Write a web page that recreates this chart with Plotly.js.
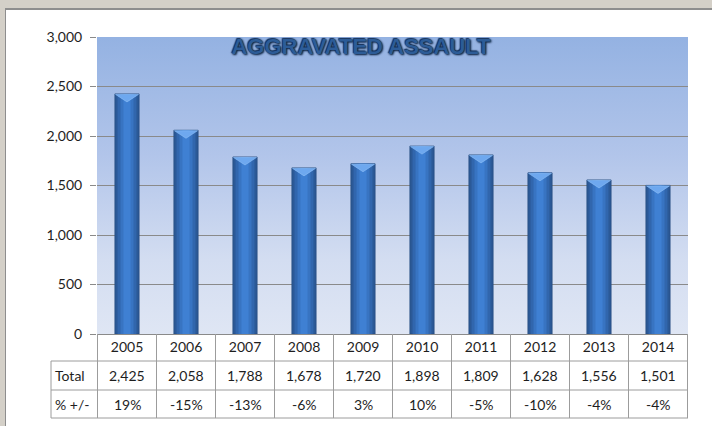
<!DOCTYPE html>
<html>
<head>
<meta charset="utf-8">
<script src="https://cdn.plot.ly/plotly-3.0.1.min.js"></script>
<style>
  html, body { margin: 0; padding: 0; }
  body { width: 712px; height: 426px; background: #d4d0c8; position: relative; overflow: hidden; }
  #frame { position: absolute; left: 5px; top: 8px; width: 707px; height: 418px;
           background: #ffffff; border-left: 1px solid #8e8e8e; border-top: 2px solid #8e8e8e; box-sizing: border-box; }
  #grad { position: absolute; left: 97px; top: 37px; width: 591px; height: 297px;
          background: linear-gradient(to bottom, #94b2e2 0%, #b2c5ea 40%, #d3ddf1 75%, #dfe6f4 100%); }
  #chart { position: absolute; left: 0; top: 0; width: 712px; height: 426px; }
</style>
</head>
<body>
<div id="frame"></div>
<div id="grad"></div>
<div id="chart"></div>
<script>
// ---- data ----
var years = ['2005','2006','2007','2008','2009','2010','2011','2012','2013','2014'];
var totals = [2425, 2058, 1788, 1678, 1720, 1898, 1809, 1628, 1556, 1501];
var pctChange = [19, -15, -13, -6, 3, 10, -5, -10, -4, -4];
var yTicks = [0, 500, 1000, 1500, 2000, 2500, 3000];
var rowLabels = ['Total', '% +/-'];
var chartTitle = 'AGGRAVATED ASSAULT';

// ---- styling ----
var font = 'Lato, "Open Sans", sans-serif';
var fs = 14;
var txtColor = '#1e1e1e';
var tableLine = '#9c9c9c';

function barTrace(w, color, lineColor, lineW) {
  return {
    type: 'bar', x: years, y: totals, width: w,
    marker: { color: color, line: { color: lineColor, width: lineW } },
    hoverinfo: 'skip', showlegend: false
  };
}
var traces = [
  barTrace(0.41, '#2b5997', '#274d80', 0.8),
  barTrace(0.32, '#3166ad', '#3166ad', 0),
  barTrace(0.22, '#3874c2', '#3874c2', 0),
  barTrace(0.12, '#3f80d3', '#3f80d3', 0)
];

var shapes = [];
// bevel triangles at the top of each bar
years.forEach(function (yr, i) {
  shapes.push({
    type: 'path', xref: 'x', yref: 'y', xsizemode: 'pixel', ysizemode: 'pixel',
    xanchor: i, yanchor: totals[i],
    path: 'M-11.5,-0.5 L11.5,-0.5 L0,-8 Z',
    fillcolor: '#6ea8ef', line: { color: '#8fc0f7', width: 0.6 }, layer: 'above'
  });
});

// table grid lines (pixel offsets below the x axis)
var rowH = [27, 29, 28];
var yLines = [0, -rowH[0], -(rowH[0] + rowH[1]), -(rowH[0] + rowH[1] + rowH[2])];
var labelLeft = -46 / 591; // paper units left of the plot
[1, 2, 3].forEach(function (k) {
  shapes.push({ type: 'line', xref: 'paper', yref: 'paper', ysizemode: 'pixel', yanchor: 0,
    x0: labelLeft, x1: 1, y0: yLines[k], y1: yLines[k], line: { color: tableLine, width: 1 } });
});
for (var b = 0; b <= years.length; b++) {
  shapes.push({ type: 'line', xref: 'x', yref: 'paper', ysizemode: 'pixel', yanchor: 0,
    x0: b - 0.5, x1: b - 0.5, y0: 0, y1: yLines[3], line: { color: tableLine, width: 1 } });
}
shapes.push({ type: 'line', xref: 'paper', yref: 'paper', ysizemode: 'pixel', yanchor: 0,
  x0: labelLeft, x1: labelLeft, y0: yLines[1], y1: yLines[3], line: { color: tableLine, width: 1 } });

var annotations = [];
var rowCenters = [-(rowH[0] + rowH[1] / 2), -(rowH[0] + rowH[1] + rowH[2] / 2)];
years.forEach(function (yr, i) {
  annotations.push({ xref: 'x', yref: 'paper', x: i, y: 0, yshift: rowCenters[0],
    text: totals[i].toLocaleString('en-US'), showarrow: false,
    font: { family: font, size: fs, color: txtColor }, xanchor: 'center', yanchor: 'middle' });
  annotations.push({ xref: 'x', yref: 'paper', x: i, y: 0, yshift: rowCenters[1],
    text: pctChange[i] + '%', showarrow: false,
    font: { family: font, size: fs, color: txtColor }, xanchor: 'center', yanchor: 'middle' });
});
rowLabels.forEach(function (lab, k) {
  annotations.push({ xref: 'paper', yref: 'paper', x: labelLeft, xshift: 2, y: 0, yshift: rowCenters[k],
    text: lab, showarrow: false, font: { family: font, size: fs, color: txtColor },
    xanchor: 'left', yanchor: 'middle' });
});

var layout = {
  width: 712, height: 426,
  margin: { l: 97, r: 24, t: 37, b: 92, pad: 0 },
  paper_bgcolor: 'rgba(0,0,0,0)', plot_bgcolor: 'rgba(0,0,0,0)',
  barmode: 'overlay',
  showlegend: false,
  title: {
    text: chartTitle, xref: 'container', yref: 'container', x: 0.507, y: 0.892,
    xanchor: 'center', yanchor: 'middle',
    font: { family: '"Liberation Sans", Arial, sans-serif', size: 22, weight: 'bold', color: '#2d5c97',
            shadow: '0 0 2px #0c2444, 1px 1px 2px #0c2444, -1px -1px 1px #1a3a66' }
  },
  xaxis: {
    type: 'category', tickvals: years, ticktext: years,
    showgrid: false, zeroline: false, showline: false, ticks: '',
    tickfont: { family: font, size: fs, color: txtColor },
    ticklabelstandoff: 3, fixedrange: true
  },
  yaxis: {
    range: [0, 3000], tickvals: yTicks, tickformat: ',d',
    showgrid: true, gridcolor: '#8a8a8a', gridwidth: 1,
    zeroline: true, zerolinecolor: '#8a8a8a', zerolinewidth: 1,
    showline: false, ticks: 'outside', ticklen: 6, tickcolor: '#8a8a8a',
    ticklabelstandoff: 5,
    tickfont: { family: font, size: fs, color: txtColor }, fixedrange: true
  },
  shapes: shapes,
  annotations: annotations
};

Plotly.newPlot('chart', traces, layout, { displayModeBar: false, staticPlot: true });
</script>
</body>
</html>
